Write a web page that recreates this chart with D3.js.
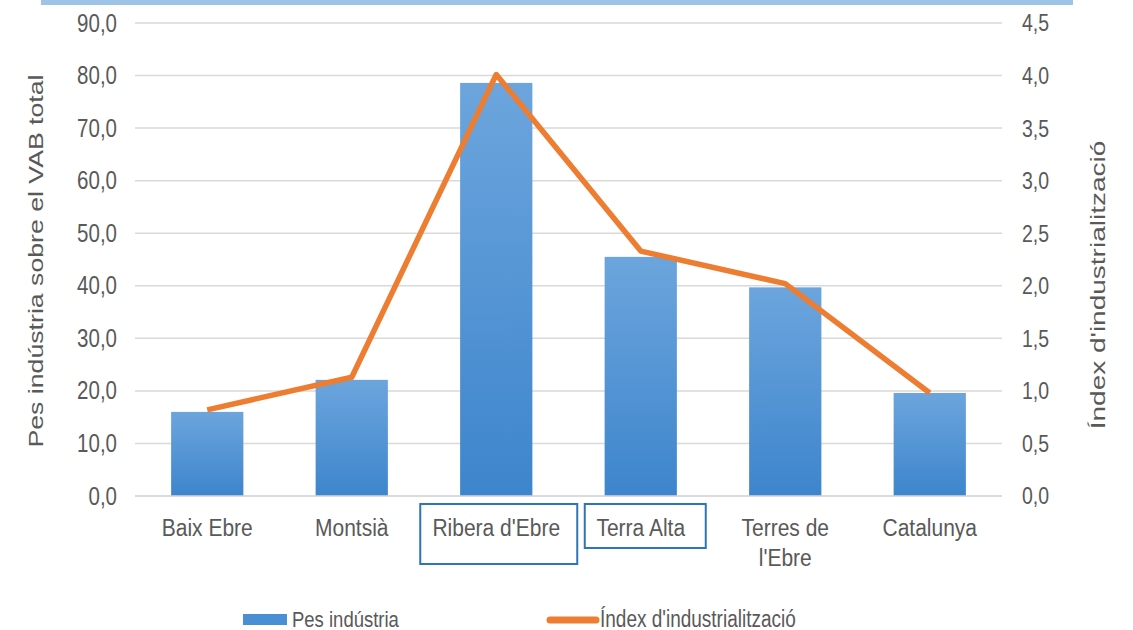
<!DOCTYPE html>
<html>
<head>
<meta charset="utf-8">
<script src="https://cdn.jsdelivr.net/npm/d3@7"></script>
<style>
  body { margin: 0; background: #fff; }
  text { font-family: "Liberation Sans", Arial, sans-serif; fill: #595959; }
</style>
</head>
<body>
<script>
// categories and values
var comarques = ["Baix Ebre", "Montsià", "Ribera d'Ebre", "Terra Alta", "Terres de\nl'Ebre", "Catalunya"];
var pesIndustria = [16.0, 22.1, 78.6, 45.5, 39.7, 19.6];
var indexIndustrialitzacio = [0.82, 1.13, 4.01, 2.33, 2.02, 0.98];
var leftTicks = [0, 10, 20, 30, 40, 50, 60, 70, 80, 90];
var rightTicks = [0, 0.5, 1, 1.5, 2, 2.5, 3, 3.5, 4, 4.5];

var w = 1133, h = 630;
var svg = d3.select("body").append("svg").attr("width", w).attr("height", h);

// the picture looks stretched vertically, so text gets stretched too
var stretch = 1.22;

// top band
svg.append("rect").attr("x", 41).attr("y", 0).attr("width", 1032).attr("height", 5).attr("fill", "#9dc3e6");

// note: "top" is a window property, so use other names
var plotL = 135, plotR = 1002, plotT = 23, plotB = 496;

var x = d3.scaleBand().domain(comarques).range([plotL, plotR]).paddingInner(0.5).paddingOuter(0.25);
var yL = d3.scaleLinear().domain([0, 90]).range([plotB, plotT]);
var yR = d3.scaleLinear().domain([0, 4.5]).range([plotB, plotT]);

var fmt = function(d, dec) { return d.toFixed(dec).replace(".", ","); };

// gridlines
svg.append("g").selectAll("line").data(leftTicks).enter().append("line")
  .attr("x1", plotL).attr("x2", plotR)
  .attr("y1", function(d) { return yL(d); }).attr("y2", function(d) { return yL(d); })
  .attr("stroke", "#d9d9d9").attr("stroke-width", 1.5);

// left axis
var axL = svg.append("g").attr("transform", "translate(" + plotL + ",0)")
  .call(d3.axisLeft(yL).tickValues(leftTicks).tickSize(0).tickPadding(18).tickFormat(function(d) { return fmt(d, 1); }));
axL.select(".domain").remove();
axL.selectAll("text").style("font-size", "20.5px").style("font-family", "Liberation Sans, Arial")
  .attr("fill", "#595959").attr("transform", "scale(1," + stretch + ")");

// right axis
var axR = svg.append("g").attr("transform", "translate(" + plotR + ",0)")
  .call(d3.axisRight(yR).tickValues(rightTicks).tickSize(0).tickPadding(20).tickFormat(function(d) { return fmt(d, 1); }));
axR.select(".domain").remove();
axR.selectAll("text").style("font-size", "19.5px").style("font-family", "Liberation Sans, Arial")
  .attr("fill", "#595959").attr("transform", "scale(1," + (stretch + 0.05) + ")");

// bar gradient
var grad = svg.append("defs").append("linearGradient").attr("id", "barGrad")
  .attr("x1", 0).attr("y1", 0).attr("x2", 0).attr("y2", 1);
grad.append("stop").attr("offset", "0%").attr("stop-color", "#6ca5dd");
grad.append("stop").attr("offset", "100%").attr("stop-color", "#3d85cc");

svg.append("g").selectAll("rect").data(pesIndustria).enter().append("rect")
  .attr("x", function(d, i) { return x(comarques[i]); })
  .attr("width", x.bandwidth())
  .attr("y", function(d) { return yL(d); })
  .attr("height", function(d) { return plotB - yL(d); })
  .attr("fill", "url(#barGrad)");

// baseline
svg.append("line").attr("x1", plotL).attr("x2", plotR).attr("y1", plotB).attr("y2", plotB)
  .attr("stroke", "#d9d9d9").attr("stroke-width", 1.5);

// line
var line = d3.line()
  .x(function(d, i) { return x(comarques[i]) + x.bandwidth() / 2; })
  .y(function(d) { return yR(d); });
svg.append("path").datum(indexIndustrialitzacio)
  .attr("d", line).attr("fill", "none")
  .attr("stroke", "#ed7d31").attr("stroke-width", 5.5).attr("stroke-linejoin", "round");

// x labels
var xl = svg.append("g").selectAll("g").data(comarques).enter().append("g")
  .attr("transform", function(d) {
    return "translate(" + (x(d) + x.bandwidth() / 2) + ",536) scale(1," + (stretch - 0.07) + ")";
  });
xl.each(function(d) {
  var t = d3.select(this).append("text").attr("text-anchor", "middle").style("font-size", "21px");
  d.split("\n").forEach(function(p, j) {
    t.append("tspan").attr("x", 0).attr("dy", j == 0 ? 0 : 30 / (stretch - 0.07)).text(p);
  });
});

// highlight boxes
var cx = function(i) { return x(comarques[i]) + x.bandwidth() / 2; };
svg.append("rect").attr("x", cx(2) - 76).attr("y", 504).attr("width", 157).attr("height", 60)
  .attr("fill", "none").attr("stroke", "#2e75b6").attr("stroke-width", 2);
svg.append("rect").attr("x", cx(3) - 56).attr("y", 504).attr("width", 121).attr("height", 44)
  .attr("fill", "none").attr("stroke", "#2e75b6").attr("stroke-width", 2);

// axis titles
svg.append("text").attr("transform", "translate(43,261) rotate(-90) scale(" + (stretch + 0.05) + ",1)")
  .attr("text-anchor", "middle").style("font-size", "21px")
  .text("Pes indústria sobre el VAB total");
svg.append("text").attr("transform", "translate(1105,285) rotate(-90) scale(" + (stretch + 0.18) + ",1)")
  .attr("text-anchor", "middle").style("font-size", "20px")
  .text("Índex d'industrialització");

// legend
svg.append("rect").attr("x", 243).attr("y", 614).attr("width", 44).attr("height", 11).attr("fill", "#4a8fd3");
svg.append("text").attr("transform", "translate(292,627) scale(1," + stretch + ")").style("font-size", "18.5px")
  .text("Pes indústria");
svg.append("line").attr("x1", 550).attr("x2", 596).attr("y1", 620).attr("y2", 620)
  .attr("stroke", "#ed7d31").attr("stroke-width", 7).attr("stroke-linecap", "round");
svg.append("text").attr("transform", "translate(600,627) scale(1," + stretch + ")").style("font-size", "19px")
  .text("Índex d'industrialització");
</script>
</body>
</html>
